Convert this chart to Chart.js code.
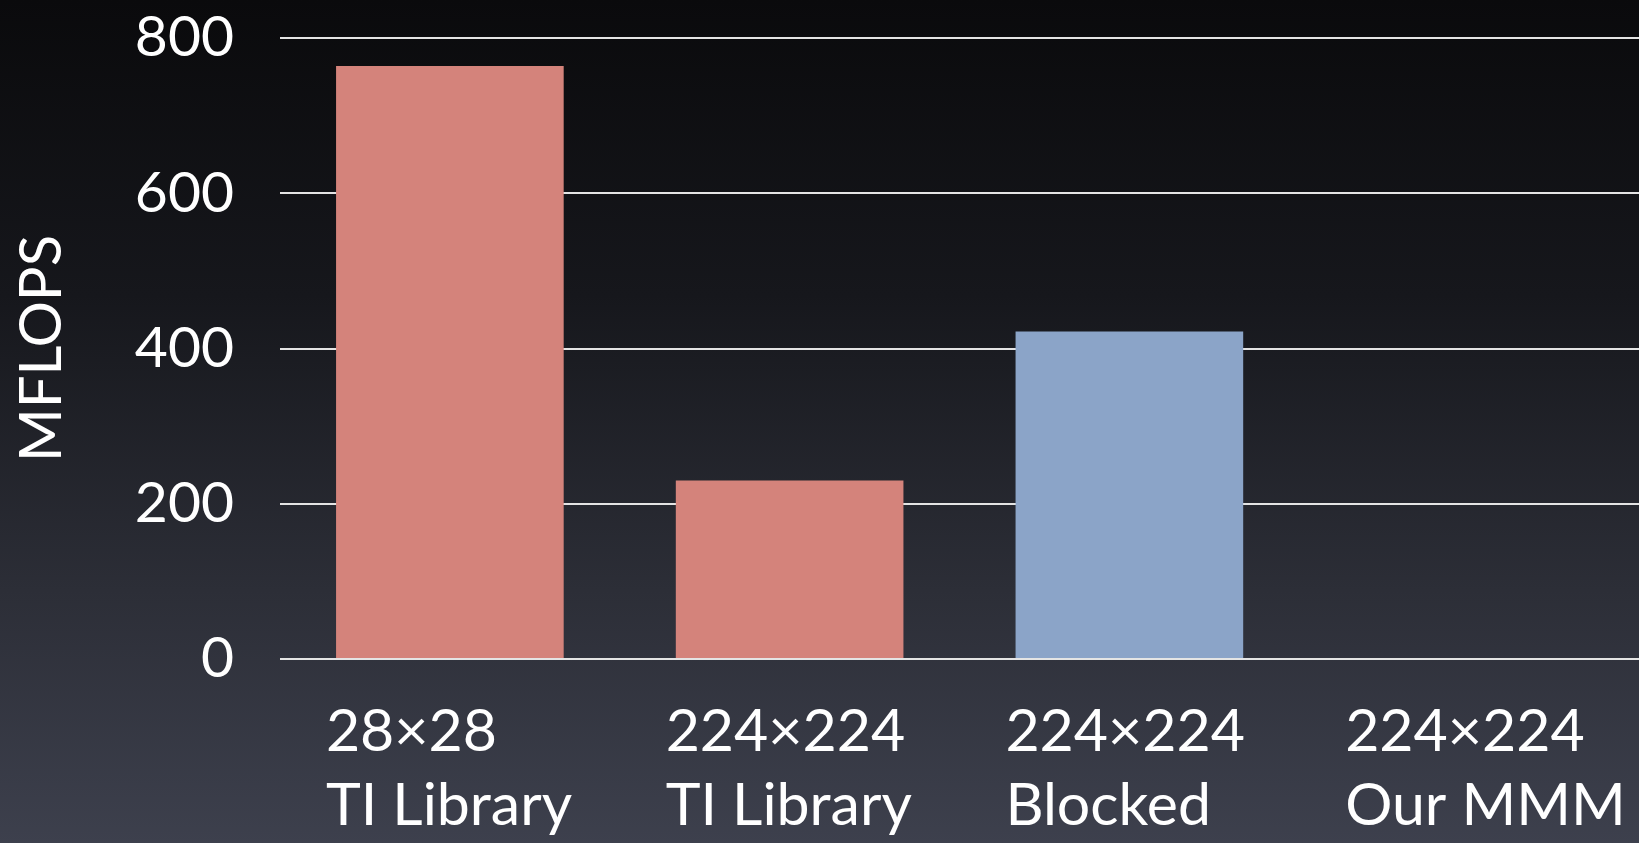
<!DOCTYPE html>
<html>
<head>
<meta charset="utf-8">
<script src="https://cdn.jsdelivr.net/npm/chart.js@4/dist/chart.umd.min.js"></script>
<style>
    html, body {
        margin: 0;
        padding: 0;
        width: 1639px;
        height: 843px;
        overflow: hidden;
        background: linear-gradient(to bottom, #0a0a0c 0%, #16171c 35%, #2c2e37 70%, #3d404d 100%);
    }
    #wrap { width: 1639px; height: 843px; position: relative; }
</style>
</head>
<body>
<div id="wrap"><canvas id="mflopsChart"></canvas></div>
<script>
const categories = [
    ['28×28', 'TI Library'],
    ['224×224', 'TI Library'],
    ['224×224', 'Blocked'],
    ['224×224', 'Our MMM']
];
const mflops = [764, 230, 422, null];
const barColors = ['#d4837b', '#d4837b', '#8ba4c8', '#8ba4c8'];
const yTicks = [0, 200, 400, 600, 800];

const fontFamily = "'Gill Sans', 'Gill Sans MT', Lato, sans-serif";

const ctx = document.getElementById('mflopsChart').getContext('2d');
const mflopsChart = new Chart(ctx, {
    type: 'bar',
    data: {
        labels: categories,
        datasets: [{
            label: 'MFLOPS',
            data: mflops,
            backgroundColor: barColors,
            borderWidth: 0,
            barPercentage: 0.67,
            categoryPercentage: 1.0
        }]
    },
    options: {
        responsive: true,
        maintainAspectRatio: false,
        animation: false,
        layout: {
            autoPadding: false,
            padding: { top: 38, left: 0, right: 0, bottom: 0 }
        },
        plugins: {
            legend: { display: false },
            tooltip: { enabled: false }
        },
        scales: {
            x: {
                grid: { display: false, drawTicks: false },
                border: { display: false },
                ticks: {
                    color: '#ffffff',
                    font: { family: fontFamily, size: 59, lineHeight: 1.25 },
                    align: 'start',
                    labelOffset: -124,
                    padding: 36,
                    maxRotation: 0,
                    autoSkip: false
                },
                afterFit: function (scale) {
                    scale.height = 184;
                    scale.paddingLeft = 0;
                    scale.paddingRight = 0;
                }
            },
            y: {
                min: 0,
                max: 800,
                afterBuildTicks: function (scale) {
                    scale.ticks = yTicks.map(v => ({ value: v }));
                },
                grid: { color: '#e4e4e4', lineWidth: 2, drawTicks: false },
                border: { display: false },
                ticks: {
                    color: '#ffffff',
                    font: { family: fontFamily, size: 57 },
                    padding: 46
                },
                title: {
                    display: true,
                    text: 'MFLOPS',
                    color: '#ffffff',
                    font: { family: fontFamily, size: 58 },
                    padding: { top: 7, bottom: 0 }
                },
                afterFit: function (scale) {
                    scale.width = 280;
                    scale.paddingTop = 0;
                    scale.paddingBottom = 0;
                }
            }
        }
    }
});
</script>
</body>
</html>
